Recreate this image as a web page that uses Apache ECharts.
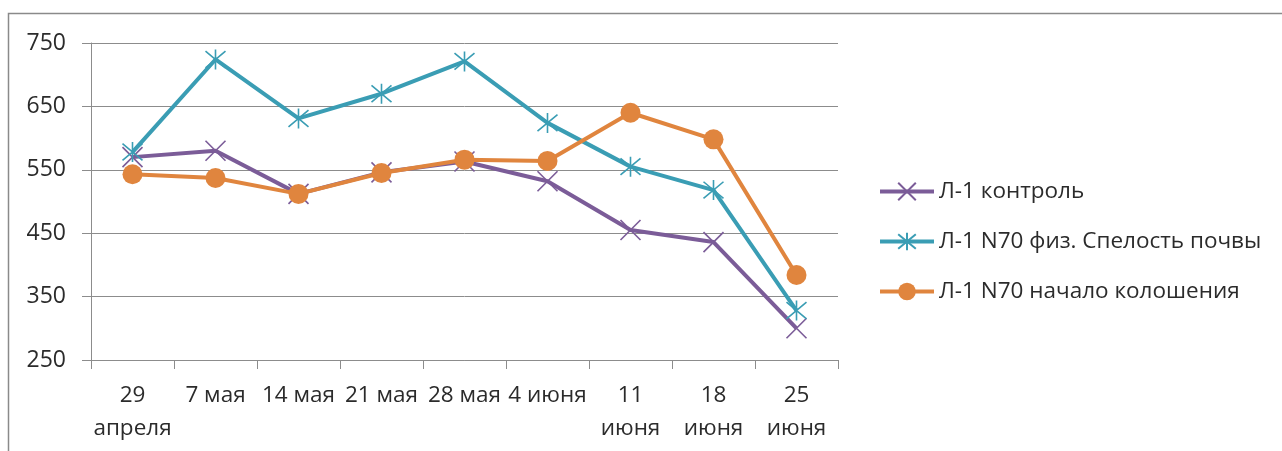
<!DOCTYPE html>
<html>
<head>
<meta charset="utf-8">
<script src="https://cdn.jsdelivr.net/npm/echarts@6/dist/echarts.min.js"></script>
<style>
  html, body { margin: 0; padding: 0; background: #ffffff; }
  #chart { width: 1282px; height: 451px; }
</style>
</head>
<body>
<div id="chart"></div>
<script>
// Dates of measurement
const categories = ['29\nапреля', '7 мая', '14 мая', '21 мая', '28 мая', '4 июня', '11\nиюня', '18\nиюня', '25\nиюня'];

// Series values
const control = [570, 580, 512, 546, 563, 532, 455, 436, 300];
const n70Ripeness = [578, 724, 631, 670, 721, 624, 555, 518, 328];
const n70Heading = [543, 537, 512, 545, 566, 564, 640, 598, 384];

const seriesNames = ['Л-1 контроль', 'Л-1 N70 физ. Спелость почвы', 'Л-1 N70 начало колошения'];

// Y axis range and step
const yMin = 250, yMax = 750, yStep = 100;

const FONT = '"Open Sans", "DejaVu Sans", sans-serif';
const TEXT = '#2b2b2b';
const GRID = '#8c8c8c';

const PURPLE = '#7b5c98';
const TEAL = '#3a9db4';
const ORANGE = '#e0853e';

const crossPath = 'path://M0 0 L10 10 M10 0 L0 10';
const starPath = 'path://M0 0 L10 10 M10 0 L0 10 M5 -1 L5 11';

const chart = echarts.init(document.getElementById('chart'), null, { renderer: 'canvas' });

function lineSeries(name, data, color, symbol, size, hollow) {
  return {
    name: name,
    type: 'line',
    data: data,
    symbol: symbol,
    symbolSize: size,
    showAllSymbol: true,
    lineStyle: { color: color, width: 4 },
    itemStyle: hollow
      ? { color: 'transparent', borderColor: color, borderWidth: 1.6 }
      : { color: color, borderWidth: 0 },
    emphasis: { disabled: true },
    animation: false,
    z: 3
  };
}

chart.setOption({
  animation: false,
  backgroundColor: '#ffffff',
  graphic: [{
    type: 'rect',
    shape: { x: 8.5, y: 13.5, width: 1300, height: 460 },
    style: { fill: 'none', stroke: '#8a8a8a', lineWidth: 1.5 },
    silent: true,
    z: 0
  }],
  grid: { left: 91, right: 444, top: 43, bottom: 91, containLabel: false },
  legend: {
    orient: 'vertical',
    left: 873,
    top: 175,
    itemWidth: 54,
    itemHeight: 22,
    itemGap: 27,
    lineStyle: { width: 4 },
    textStyle: { fontFamily: FONT, fontSize: 22.5, color: TEXT },
    data: seriesNames
  },
  xAxis: {
    type: 'category',
    data: categories,
    boundaryGap: true,
    axisLine: { show: true, lineStyle: { color: GRID, width: 1 } },
    axisTick: { show: true, length: 9, alignWithLabel: false, lineStyle: { color: GRID } },
    axisLabel: {
      interval: 0,
      margin: 19,
      fontFamily: FONT,
      fontSize: 22.5,
      lineHeight: 33,
      color: TEXT
    },
    splitLine: { show: false }
  },
  yAxis: {
    type: 'value',
    min: yMin,
    max: yMax,
    interval: yStep,
    axisLine: { show: true, lineStyle: { color: GRID, width: 1 } },
    axisTick: { show: true, length: 9, lineStyle: { color: GRID } },
    axisLabel: { margin: 25, fontFamily: FONT, fontSize: 23, color: TEXT },
    splitLine: { show: true, lineStyle: { color: GRID, width: 1 } }
  },
  series: [
    lineSeries(seriesNames[0], control, PURPLE, crossPath, 20, true),
    lineSeries(seriesNames[1], n70Ripeness, TEAL, starPath, 20, true),
    lineSeries(seriesNames[2], n70Heading, ORANGE, 'circle', 20, false)
  ]
});
</script>
</body>
</html>
